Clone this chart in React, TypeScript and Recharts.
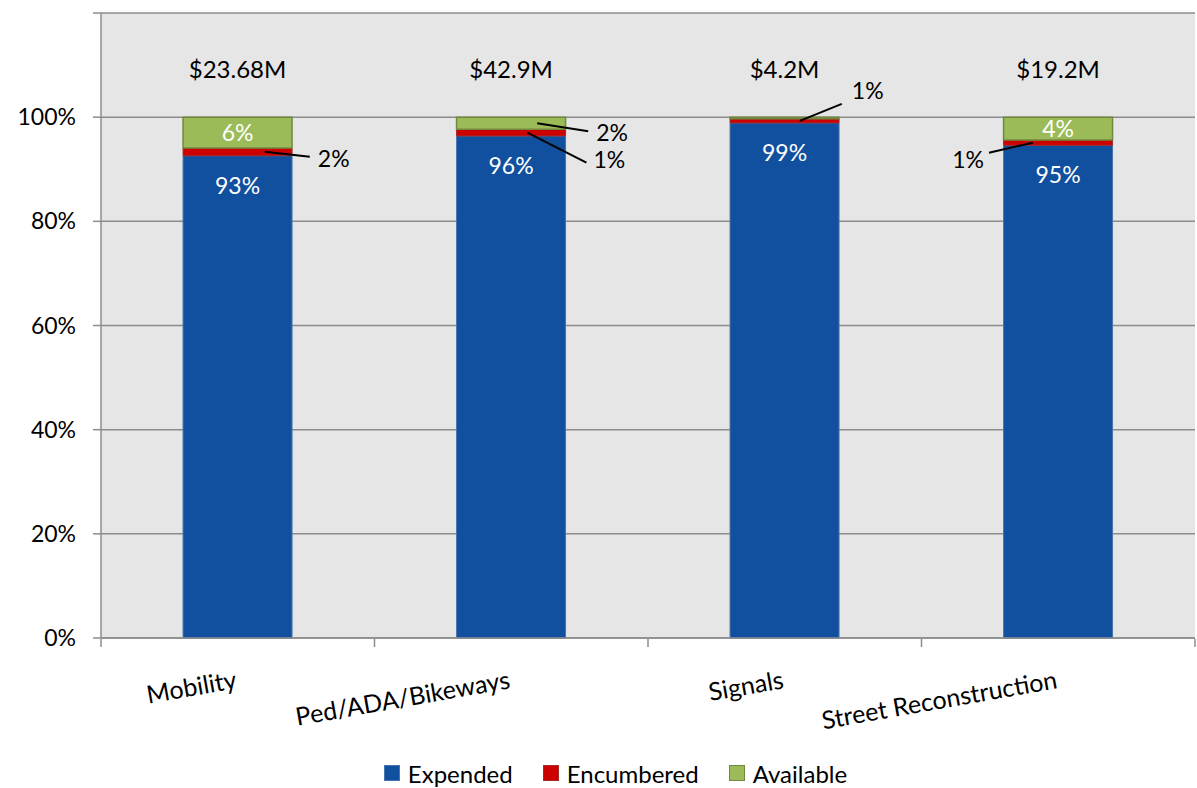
import React from 'react';
import { BarChart, Bar, XAxis, YAxis, CartesianGrid, Legend, LabelList } from 'recharts';

const categories = ['Mobility', 'Ped/ADA/Bikeways', 'Signals', 'Street Reconstruction'];
const totals = ['$23.68M', '$42.9M', '$4.2M', '$19.2M'];
const expended = [92.6, 96.4, 98.9, 94.6];
const encumbered = [1.5, 1.3, 0.8, 1.0];
const available = [5.9, 2.3, 0.3, 4.4];
const yTicks = [0, 20, 40, 60, 80, 100, 120];

const data = categories.map((name, i) => ({
  name,
  total: totals[i],
  expended: expended[i],
  encumbered: encumbered[i],
  available: available[i],
}));

const W = 1197;
const H = 788;
const Y_AXIS_W = 101;
const RIGHT = 2;
const FONT = 'Lato, "Open Sans", sans-serif';
const colors = { expended: '#11509e', encumbered: '#cc0000', available: '#9bbb59' };
const borders = { expended: '#4a74ad', encumbered: '#a52a2a', available: '#71893f' };

// leader-line labels for the thin segments
type Callout = { fx: number; dx: number; dy: number; tx: number; ty: number; anchor: 'start' | 'end' };
const callouts: Record<string, Callout> = {
  'encumbered-0': { fx: 0.75, dx: 45, dy: 5, tx: 8, ty: 10, anchor: 'start' },
  'available-1': { fx: 0.74, dx: 51, dy: 8, tx: 8, ty: 10, anchor: 'start' },
  'encumbered-1': { fx: 0.65, dx: 59, dy: 30, tx: 7, ty: 5, anchor: 'start' },
  'encumbered-2': { fx: 0.64, dx: 42, dy: -17, tx: 10, ty: -5, anchor: 'start' },
  'encumbered-3': { fx: 0.27, dx: -44, dy: 10, tx: -5, ty: 15, anchor: 'end' },
};

const box = (props: any) => {
  const vb = props.viewBox || {};
  return {
    x: Number(props.x ?? vb.x),
    y: Number(props.y ?? vb.y),
    w: Number(props.width ?? vb.width),
    h: Number(props.height ?? vb.height),
  };
};

const segmentLabel = (series: 'expended' | 'encumbered' | 'available') => (props: any) => {
  const { x, y, w, h } = box(props);
  const idx = props.index;
  const v = Math.round(Number(props.value));
  const c = callouts[`${series}-${idx}`];
  if (c) {
    const x1 = x + w * c.fx;
    const y1 = y + h / 2;
    const x2 = x1 + c.dx;
    const y2 = y1 + c.dy;
    return (
      <g>
        <line x1={x1} y1={y1} x2={x2} y2={y2} stroke="#000" strokeWidth={2} />
        <text x={x2 + c.tx} y={y2 + c.ty} textAnchor={c.anchor} fontSize={23} fill="#000" fontFamily={FONT}>
          {`${v}%`}
        </text>
      </g>
    );
  }
  if (series === 'expended') {
    return (
      <text x={x + w / 2} y={y + 38} textAnchor="middle" fontSize={23} fill="#fff" fontFamily={FONT}>
        {`${v}%`}
      </text>
    );
  }
  if (series === 'available' && v >= 1) {
    return (
      <text x={x + w / 2} y={y + h / 2 + 8} textAnchor="middle" fontSize={23} fill="#fff" fontFamily={FONT}>
        {`${v}%`}
      </text>
    );
  }
  return null;
};

const totalLabel = (props: any) => {
  const { x, y, w } = box(props);
  return (
    <text x={x + w / 2} y={y - 39} textAnchor="middle" fontSize={24} fill="#000" fontFamily={FONT}>
      {props.value}
    </text>
  );
};

// category label plus a tick mark on each category boundary
const CategoryTick = (props: any) => {
  const { x, y, payload, index } = props;
  const band = (W - Y_AXIS_W - RIGHT) / categories.length;
  const ly = y + 40;
  return (
    <g>
      <line x1={x - band / 2} y1={y - 9} x2={x - band / 2} y2={y - 1} stroke="#8c8c8c" strokeWidth={1.5} />
      {index === categories.length - 1 && (
        <line x1={x + band / 2} y1={y - 9} x2={x + band / 2} y2={y - 1} stroke="#8c8c8c" strokeWidth={1.5} />
      )}
      <text x={x} y={ly} textAnchor="end" fontSize={25} fill="#000" fontFamily={FONT} transform={`rotate(-10, ${x}, ${ly})`}>
        {payload.value}
      </text>
    </g>
  );
};

const legendItems = [
  { key: 'expended', label: 'Expended' },
  { key: 'encumbered', label: 'Encumbered' },
  { key: 'available', label: 'Available' },
] as const;

const LegendContent = () => (
  <div
    style={{
      boxSizing: 'border-box',
      height: 48,
      display: 'flex',
      justifyContent: 'center',
      alignItems: 'center',
      gap: 30,
      paddingLeft: 36,
      paddingTop: 18,
      fontFamily: FONT,
      fontSize: 24,
      color: '#000',
    }}
  >
    {legendItems.map((it) => (
      <div key={it.key} style={{ display: 'flex', alignItems: 'center' }}>
        <span
          style={{
            display: 'inline-block',
            width: 14,
            height: 14,
            background: colors[it.key],
            border: `1px solid ${borders[it.key]}`,
            marginRight: 8,
          }}
        />
        {it.label}
      </div>
    ))}
  </div>
);

export default function App() {
  return (
    <div style={{ position: 'absolute', left: 0, top: 0, width: W, height: H, background: '#fff' }}>
      <BarChart
        width={W}
        height={H}
        data={data}
        margin={{ top: 13, right: RIGHT, left: 0, bottom: 0 }}
        barCategoryGap="30%"
      >
        <CartesianGrid vertical={false} fill="#e6e6e6" stroke="#8c8c8c" strokeWidth={1.5} />
        <XAxis
          dataKey="name"
          height={102}
          stroke="#8c8c8c"
          strokeWidth={1.5}
          tickLine={false}
          tickSize={8}
          interval={0}
          tick={<CategoryTick />}
        />
        <YAxis
          width={Y_AXIS_W}
          domain={[0, 120]}
          ticks={yTicks}
          tickFormatter={(v: number) => (v === 120 ? '' : `${v}%`)}
          tickSize={8}
          tickMargin={17}
          stroke="#8c8c8c"
          strokeWidth={1.5}
          tick={{ fill: '#000', fontSize: 23, fontFamily: FONT }}
        />
        <Legend verticalAlign="bottom" content={<LegendContent />} />
        <Bar dataKey="expended" stackId="a" fill={colors.expended} stroke={borders.expended} isAnimationActive={false}>
          <LabelList dataKey="expended" content={segmentLabel('expended')} />
        </Bar>
        <Bar dataKey="encumbered" stackId="a" fill={colors.encumbered} stroke={borders.encumbered} isAnimationActive={false}>
          <LabelList dataKey="encumbered" content={segmentLabel('encumbered')} />
        </Bar>
        <Bar dataKey="available" stackId="a" fill={colors.available} stroke={borders.available} strokeWidth={1.5} isAnimationActive={false}>
          <LabelList dataKey="available" content={segmentLabel('available')} />
          <LabelList dataKey="total" content={totalLabel} />
        </Bar>
      </BarChart>
    </div>
  );
}
